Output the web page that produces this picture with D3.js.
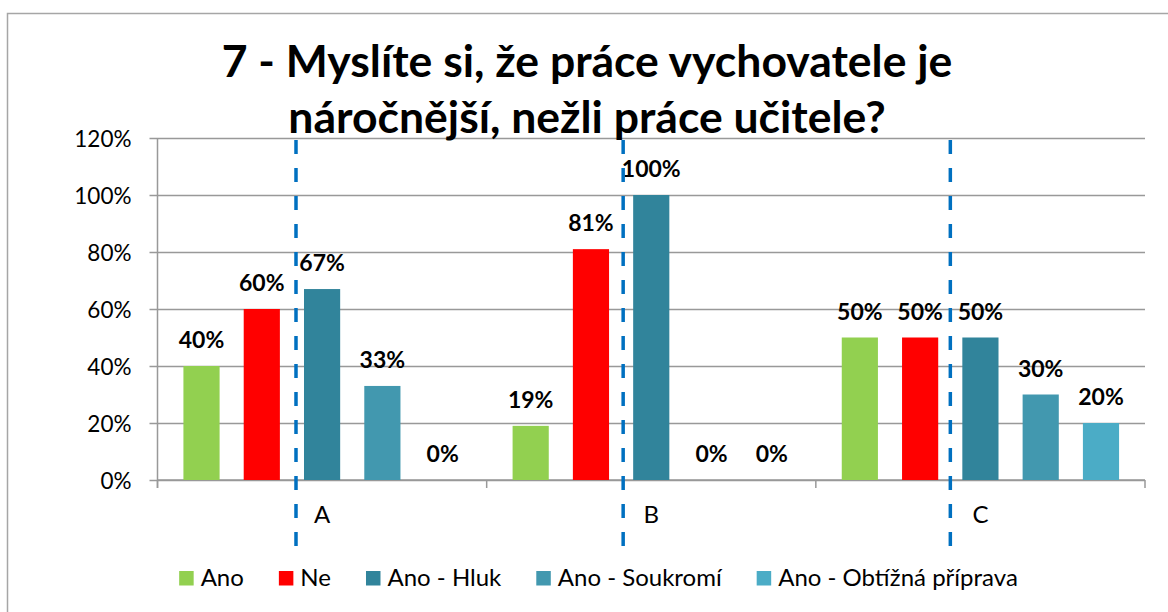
<!DOCTYPE html>
<html>
<head>
<meta charset="utf-8">
<script src="https://cdn.jsdelivr.net/npm/d3@7"></script>
<style>
  body { margin: 0; background: #fff; }
  svg { display: block; font-family: Lato, "Open Sans", sans-serif; }
</style>
</head>
<body>
<svg id="chart" width="1168" height="612"></svg>
<script>
/* data */
const categories = ["A", "B", "C"];
const seriesNames = ["Ano", "Ne", "Ano - Hluk", "Ano - Soukromí", "Ano - Obtížná příprava"];
const seriesColors = ["#92d050", "#ff0000", "#31849b", "#4298af", "#4bacc6"];
const valuesAno = [0.40, 0.19, 0.50];
const valuesNe = [0.60, 0.81, 0.50];
const valuesHluk = [0.67, 1.00, 0.50];
const valuesSoukromi = [0.33, 0.00, 0.30];
const valuesObtizna = [0.00, 0.00, 0.20];
const yTicks = [0, 0.2, 0.4, 0.6, 0.8, 1.0, 1.2];
const titleLines = ["7 - Myslíte si, že práce vychovatele je", "náročnější, nežli práce učitele?"];

const seriesValues = [valuesAno, valuesNe, valuesHluk, valuesSoukromi, valuesObtizna];

const svg = d3.select("#chart");
const gridColor = "#999999";

/* outer chart border */
svg.append("rect")
    .attr("x", 7.5).attr("y", 13.5)
    .attr("width", 1180).attr("height", 620)
    .attr("fill", "none")
    .attr("stroke", "#a6a6a6")
    .attr("stroke-width", 1.5);

/* scales */
const plotLeft = 157.5, plotRight = 1145, plotTop = 138, plotBottom = 480;

var x0 = d3.scaleBand()
    .domain(categories)
    .range([plotLeft, plotRight]);

var x1 = d3.scaleBand()
    .domain(seriesNames)
    .range([0, x0.bandwidth()])
    .paddingInner(0.4)
    .paddingOuter(0.43);

var y = d3.scaleLinear()
    .domain([0, 1.2])
    .range([plotBottom, plotTop]);

/* gridlines + y axis */
var yAxis = d3.axisLeft(y)
    .tickValues(yTicks)
    .tickFormat(d3.format(".0%"))
    .tickSize(-(plotRight - plotLeft))
    .tickPadding(0);

svg.append("g")
    .attr("class", "yAxis")
    .attr("transform", "translate(" + plotLeft + ",0)")
    .call(yAxis)
    .call(g => g.select(".domain").remove())
    .call(g => g.selectAll(".tick line")
        .attr("x1", -8)
        .attr("stroke", gridColor)
        .attr("stroke-width", 1.5))
    .call(g => g.selectAll(".tick text")
        .attr("x", -26)
        .attr("dy", "0.36em")
        .style("font-size", "22.5px")
        .style("font-family", "Lato")
        .attr("fill", "#000"));

/* y axis line */
svg.append("line")
    .attr("x1", plotLeft).attr("x2", plotLeft)
    .attr("y1", plotTop).attr("y2", plotBottom + 8)
    .attr("stroke", gridColor)
    .attr("stroke-width", 1.5);

/* x axis with ticks at category boundaries */
var boundaries = categories.map(c => x0(c)).concat([plotRight]);
svg.append("g")
    .attr("class", "xAxisTicks")
    .selectAll("line")
    .data(boundaries)
    .enter()
    .append("line")
    .attr("x1", d => d).attr("x2", d => d)
    .attr("y1", plotBottom).attr("y2", plotBottom + 8)
    .attr("stroke", gridColor)
    .attr("stroke-width", 1.5);

svg.append("line")
    .attr("x1", plotLeft).attr("x2", plotRight)
    .attr("y1", plotBottom).attr("y2", plotBottom)
    .attr("stroke", gridColor)
    .attr("stroke-width", 1.5);

/* category labels */
svg.selectAll(".catLabel")
    .data(categories)
    .enter()
    .append("text")
    .attr("class", "catLabel")
    .attr("x", d => x0(d) + x0.bandwidth() / 2)
    .attr("y", 523)
    .attr("text-anchor", "middle")
    .style("font-size", "24px")
    .text(d => d);

/* bars */
const barRows = [];
categories.forEach((c, ci) => {
    seriesNames.forEach((s, si) => {
        barRows.push({ cat: c, series: s, value: seriesValues[si][ci], color: seriesColors[si] });
    });
});

svg.selectAll(".bar")
    .data(barRows)
    .enter()
    .append("rect")
    .attr("class", "bar")
    .attr("x", d => x0(d.cat) + x1(d.series))
    .attr("width", x1.bandwidth())
    .attr("y", d => y(d.value))
    .attr("height", d => plotBottom - y(d.value))
    .style("fill", d => d.color);

/* data labels */
svg.selectAll(".label")
    .data(barRows)
    .enter()
    .append("text")
    .attr("class", "label")
    .attr("x", d => x0(d.cat) + x1(d.series) + x1.bandwidth() / 2)
    .attr("y", d => y(d.value) - 18)
    .attr("text-anchor", "middle")
    .style("font-size", "23px")
    .style("font-weight", "700")
    .text(d => Math.round(d.value * 100) + "%");

/* title */
svg.append("text")
    .attr("class", "title")
    .attr("x", 587)
    .attr("y", 77)
    .attr("text-anchor", "middle")
    .style("font-size", "44.5px")
    .style("font-weight", "700")
    .selectAll("tspan")
    .data(titleLines)
    .enter()
    .append("tspan")
    .attr("x", 587)
    .attr("dy", (d, i) => i === 0 ? 0 : 56)
    .text(d => d);

/* dashed separators, drawn just left of the "Ano - Hluk" bar in each group */
svg.selectAll(".divider")
    .data(categories)
    .enter()
    .append("line")
    .attr("class", "divider")
    .attr("x1", (d, i) => x0(d) + x1("Ano - Hluk") - 8 - i * 2)
    .attr("x2", (d, i) => x0(d) + x1("Ano - Hluk") - 8 - i * 2)
    .attr("y1", 140)
    .attr("y2", 547)
    .attr("stroke", "#0070c0")
    .attr("stroke-width", 3.5)
    .attr("stroke-dasharray", "14,14");

/* legend */
const legend = svg.append("g").attr("class", "legend");
const items = legend.selectAll(".legendItem")
    .data(seriesNames)
    .enter()
    .append("g")
    .attr("class", "legendItem");

items.append("rect")
    .attr("width", 14.5).attr("height", 14.5)
    .attr("y", 571)
    .style("fill", (d, i) => seriesColors[i]);

items.append("text")
    .attr("x", 21.5)
    .attr("y", 586)
    .style("font-size", "24px")
    .text(d => d);

let offsets = [], cursor = 0;
items.each(function () {
    offsets.push(cursor);
    cursor += 21.5 + this.querySelector("text").getComputedTextLength() + 35;
});
const legendWidth = cursor - 35;
const legendStart = 598.5 - legendWidth / 2;
items.attr("transform", (d, i) => "translate(" + (legendStart + offsets[i]) + ",0)");
</script>
</body>
</html>
